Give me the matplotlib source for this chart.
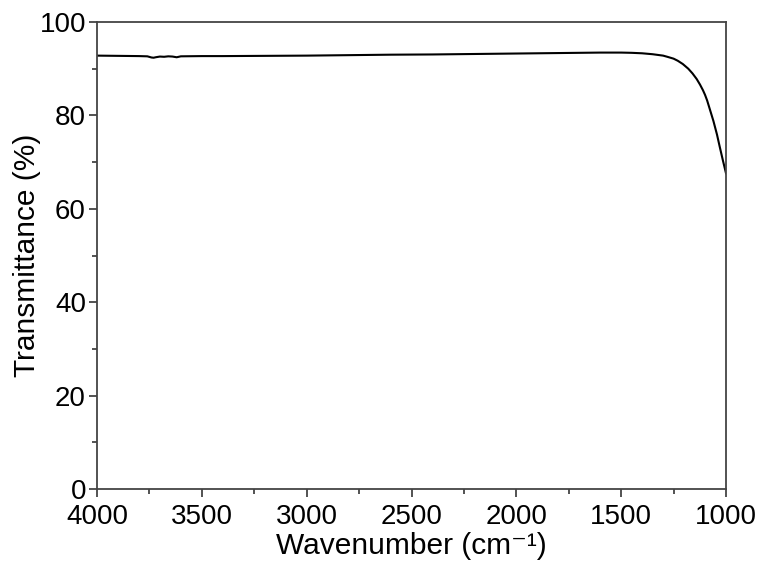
import matplotlib
matplotlib.use('Agg')
import matplotlib.pyplot as plt
from matplotlib.ticker import MultipleLocator

# values
wavenumber = [4000, 3900, 3800, 3760, 3740, 3730, 3720, 3700, 3680, 3660, 3640,
              3620, 3600, 3500, 3400, 3200, 3000, 2800, 2600, 2400, 2200,
              2000, 1800, 1600, 1500, 1450, 1400, 1350, 1300, 1280, 1250,
              1230, 1206, 1180, 1160, 1140, 1124, 1110, 1100, 1090, 1077,
              1060, 1043, 1030, 1015, 1000]
transmittance = [92.8, 92.75, 92.7, 92.65, 92.4, 92.35, 92.45, 92.6, 92.55, 92.65, 92.6,
                 92.45, 92.65, 92.7, 92.7, 92.75, 92.8, 92.9, 93.0, 93.05, 93.15,
                 93.25, 93.35, 93.45, 93.45, 93.4, 93.3, 93.1, 92.8, 92.55, 92.15,
                 91.7, 91.0, 90.0, 89.0, 87.8, 86.6, 85.4, 84.4, 83.2, 81.3,
                 78.8, 75.9, 73.3, 70.4, 67.6]

plt.rcParams['font.family'] = ['Liberation Sans', 'DejaVu Sans']

fig = plt.figure(figsize=(7.64, 5.69), dpi=100)
ax = fig.add_axes([97 / 764, 1 - 489 / 569, 629 / 764, 467 / 569])

ax.plot(wavenumber, transmittance, color='black', linewidth=1.5)

ax.set_xlim(4000, 1000)
ax.set_ylim(0, 100)
ax.xaxis.set_major_locator(MultipleLocator(500))
ax.xaxis.set_minor_locator(MultipleLocator(250))
ax.yaxis.set_major_locator(MultipleLocator(20))
ax.yaxis.set_minor_locator(MultipleLocator(10))

frame = '#444444'
for s in ax.spines.values():
    s.set_color(frame)
    s.set_linewidth(1.3)
ax.tick_params(which='both', direction='out', color=frame, width=1.3,
               top=False, right=False, labelsize=20)
ax.tick_params(which='major', length=6)
ax.tick_params(which='minor', length=3.5)
ax.tick_params(axis='x', pad=5)
ax.tick_params(axis='y', pad=2)

ax.set_xlabel('Wavenumber (cm\u207b\u00b9)', fontsize=21.5, labelpad=1)
ax.set_ylabel('Transmittance (%)', fontsize=21.5, labelpad=-1)

fig.savefig('out.png', dpi=100)
